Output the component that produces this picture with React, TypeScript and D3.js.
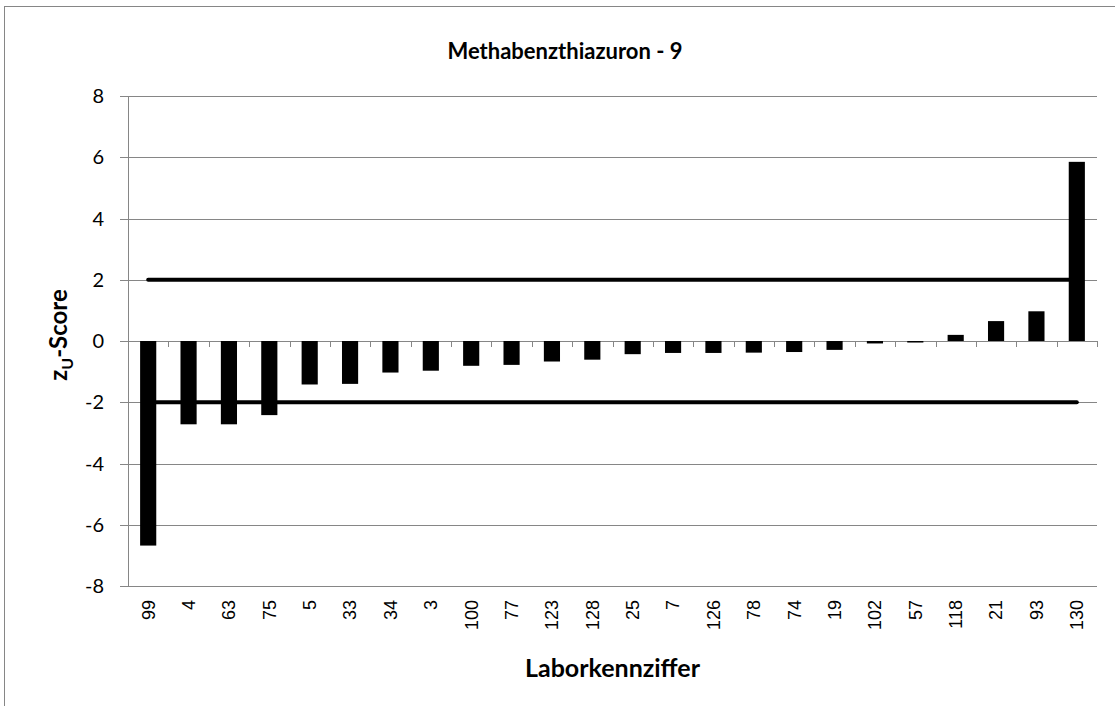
import { useEffect, useRef } from 'react';
import * as d3 from 'd3';

const labs = ['99', '4', '63', '75', '5', '33', '34', '3', '100', '77', '123', '128', '25', '7', '126', '78', '74', '19', '102', '57', '118', '21', '93', '130'];
const zScores = [-6.68, -2.72, -2.72, -2.42, -1.42, -1.4, -1.03, -0.97, -0.81, -0.78, -0.67, -0.61, -0.43, -0.39, -0.39, -0.38, -0.36, -0.29, -0.08, -0.05, 0.2, 0.65, 0.97, 5.85];
const upperLimit = labs.map(() => 2);
const lowerLimit = labs.map(() => -2);
const yTicks = [-8, -6, -4, -2, 0, 2, 4, 6, 8];

const W = 1115;
const H = 706;
const grey = '#868686';
const font = 'Lato, "Open Sans", sans-serif';

export default function App() {
  const svgRef = useRef<SVGSVGElement>(null);

  useEffect(() => {
    document.body.style.margin = '0';
    if (!svgRef.current) return;

    // Clear previous drawing
    d3.select(svgRef.current).selectAll('*').remove();
    const svg = d3.select(svgRef.current);

    const margin = { top: 96, right: 18, bottom: 120, left: 128 };

    const x = d3.scaleBand<string>()
      .domain(labs)
      .range([margin.left, W - margin.right])
      .paddingInner(0.6)
      .paddingOuter(0.3);

    const y = d3.scaleLinear()
      .domain([-8, 8])
      .range([H - margin.bottom, margin.top]);

    // chart frame
    svg.append('rect')
      .attr('x', 4.5).attr('y', 6.5)
      .attr('width', 1125).attr('height', 730)
      .attr('fill', 'white')
      .attr('stroke', grey);

    // gridlines
    svg.append('g')
      .selectAll('line')
      .data(yTicks)
      .join('line')
      .attr('x1', margin.left - 8)
      .attr('x2', W - margin.right)
      .attr('y1', d => Math.round(y(d)) + 0.5)
      .attr('y2', d => Math.round(y(d)) + 0.5)
      .attr('stroke', grey);

    // y axis line
    svg.append('line')
      .attr('x1', margin.left + 0.5).attr('x2', margin.left + 0.5)
      .attr('y1', y(8)).attr('y2', y(-8))
      .attr('stroke', grey);

    // y tick labels
    svg.append('g')
      .selectAll('text')
      .data(yTicks)
      .join('text')
      .attr('x', 104)
      .attr('y', d => y(d))
      .attr('dy', '0.36em')
      .attr('text-anchor', 'end')
      .style('font-family', font)
      .style('font-size', '20px')
      .attr('fill', '#000')
      .text(d => d);

    // category ticks on zero line
    const bounds = d3.range(labs.length + 1).map(i => margin.left + (W - margin.right - margin.left) * i / labs.length);
    svg.append('g')
      .selectAll('line')
      .data(bounds)
      .join('line')
      .attr('x1', d => Math.round(d) + 0.5)
      .attr('x2', d => Math.round(d) + 0.5)
      .attr('y1', y(0))
      .attr('y2', y(0) + 6)
      .attr('stroke', grey);

    // bars
    svg.append('g')
      .selectAll('rect')
      .data(zScores)
      .join('rect')
      .attr('x', (_, i) => x(labs[i]) || 0)
      .attr('width', x.bandwidth())
      .attr('y', d => y(Math.max(0, d)))
      .attr('height', d => Math.abs(y(d) - y(0)))
      .attr('fill', '#000');

    // limit lines
    const line = d3.line<number>()
      .x((_, i) => (x(labs[i]) || 0) + x.bandwidth() / 2)
      .y(d => y(d));
    [upperLimit, lowerLimit].forEach(vals => {
      svg.append('path')
        .attr('d', line(vals))
        .attr('fill', 'none')
        .attr('stroke', '#000')
        .attr('stroke-width', 4)
        .attr('stroke-linecap', 'round');
    });

    // x tick labels
    svg.append('g')
      .selectAll('text')
      .data(labs)
      .join('text')
      .attr('transform', d => `translate(${(x(d) || 0) + x.bandwidth() / 2},${y(-8) + 14}) rotate(-90)`)
      .attr('dy', '0.35em')
      .attr('text-anchor', 'end')
      .style('font-family', '"Liberation Sans", Arial, sans-serif')
      .style('font-size', '18px')
      .attr('fill', '#000')
      .text(d => d);

    // title
    svg.append('text')
      .attr('x', 565)
      .attr('y', 59)
      .attr('text-anchor', 'middle')
      .style('font-family', font)
      .style('font-weight', 'bold')
      .style('font-size', '22px')
      .text('Methabenzthiazuron - 9');

    // x title
    svg.append('text')
      .attr('x', (margin.left + W - margin.right) / 2)
      .attr('y', 677)
      .attr('text-anchor', 'middle')
      .style('font-family', font)
      .style('font-weight', 'bold')
      .style('font-size', '25px')
      .text('Laborkennziffer');

    // y title with subscript
    const yt = svg.append('text')
      .attr('transform', `translate(67,${y(0) - 6}) rotate(-90)`)
      .attr('text-anchor', 'middle')
      .style('font-family', font)
      .style('font-weight', 'bold')
      .style('font-size', '24px');
    yt.append('tspan').text('z');
    yt.append('tspan').attr('dy', 6).style('font-size', '16px').text('U');
    yt.append('tspan').attr('dy', -6).text('-Score');
  }, []);

  return <svg ref={svgRef} width={W} height={H} style={{ display: 'block', background: '#fff' }} />;
}
